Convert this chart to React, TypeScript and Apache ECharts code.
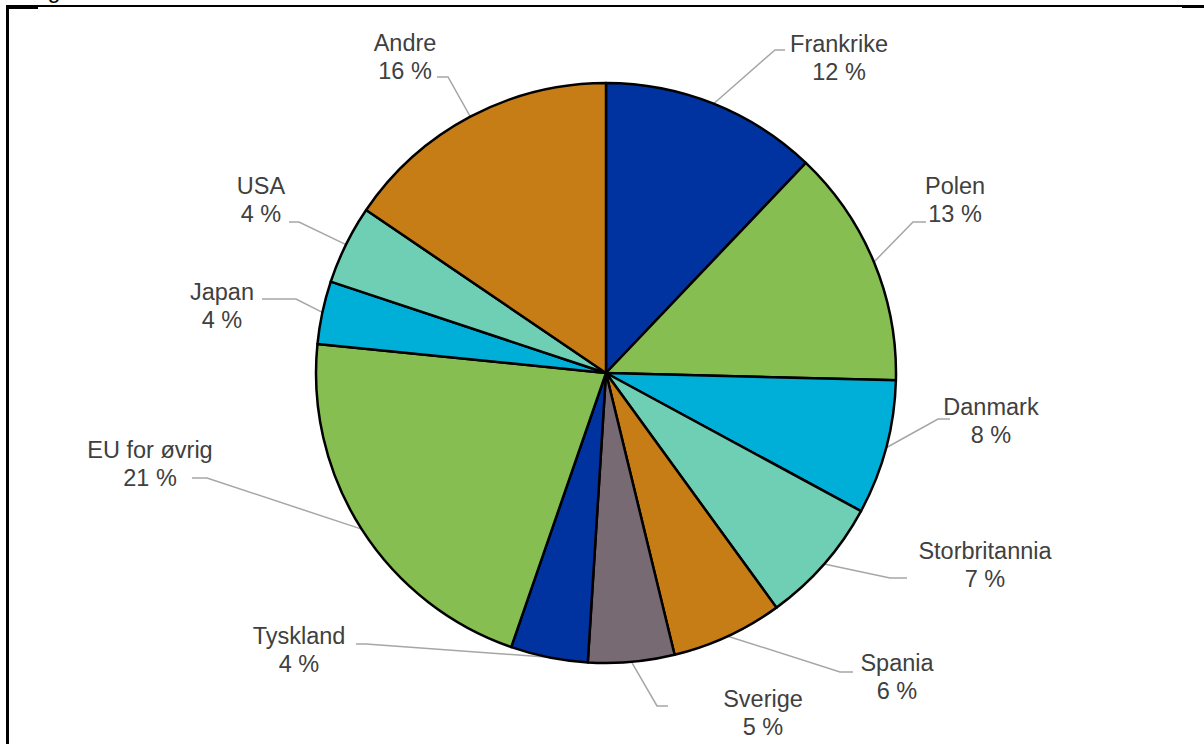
import React, { useEffect, useRef } from "react";
import * as echarts from "echarts";

const countries = [
  "Frankrike",
  "Polen",
  "Danmark",
  "Storbritannia",
  "Spania",
  "Sverige",
  "Tyskland",
  "EU for øvrig",
  "Japan",
  "USA",
  "Andre",
];
const shares = [12.1, 13.3, 7.5, 7.1, 6.2, 4.8, 4.3, 21.3, 3.5, 4.4, 15.5];

const sliceColors = [
  "#0033A0",
  "#86BE52",
  "#00AFD8",
  "#6FCFB4",
  "#C67D16",
  "#786A73",
  "#0033A0",
  "#86BE52",
  "#00AFD8",
  "#6FCFB4",
  "#C67D16",
];

// label layout: [textCenterX, textCenterY, elbowX, elbowY, endX]
const labelPlacement = [
  [839, 58, 775, 50, 785],
  [955, 200, 913, 222, 926],
  [991, 421, 938, 419, 950],
  [985, 565, 890, 578, 907],
  [897, 677, 840, 672, 853],
  [763, 713, 657, 706, 668],
  [299, 650, 366, 644, 356],
  [150, 464, 207, 478, 192],
  [222, 306, 296, 299, 262],
  [261, 200, 299, 222, 289],
  [405, 57, 448, 77, 437],
];

export default function App() {
  const ref = useRef<HTMLDivElement>(null);
  useEffect(() => {
    if (!ref.current) return;
    const chart = echarts.init(ref.current, null, { renderer: "svg" });
    const cx = 606;
    const cy = 373;
    const R = 290;
    const total = shares.reduce((a, b) => a + b, 0);
    const midAngles: number[] = [];
    let acc = 0;
    shares.forEach((v) => {
      midAngles.push(((acc + v / 2) / total) * Math.PI * 2);
      acc += v;
    });
    chart.setOption({
      animation: false,
      backgroundColor: "#ffffff",
      graphic: [
        {
          type: "text",
          left: 28,
          top: -22,
          style: {
            text: "Figur",
            fontSize: 23.5,
            fontFamily: "Liberation Sans, Arial, sans-serif",
            fill: "#000",
          },
        },
        {
          type: "line",
          shape: { x1: 7.5, y1: 6, x2: 7.5, y2: 760 },
          style: { stroke: "#000", lineWidth: 3 },
        },
        {
          type: "line",
          shape: { x1: 6, y1: 6, x2: 1204, y2: 6 },
          style: { stroke: "#000", lineWidth: 2 },
        },
        {
          type: "line",
          shape: { x1: 6, y1: 7.5, x2: 38, y2: 7.5 },
          style: { stroke: "#000", lineWidth: 3 },
        },
        {
          type: "line",
          shape: { x1: 1182, y1: 6.5, x2: 1204, y2: 6.5 },
          style: { stroke: "#000", lineWidth: 3 },
        },
      ],
      series: [
        {
          type: "pie",
          center: [cx, cy],
          radius: R,
          startAngle: 90,
          clockwise: true,
          avoidLabelOverlap: false,
          data: countries.map((n, i) => ({
            name: n,
            value: shares[i],
            itemStyle: { color: sliceColors[i] },
          })),
          itemStyle: { borderColor: "#000", borderWidth: 2.5 },
          emphasis: { disabled: true },
          label: {
            show: true,
            position: "outside",
            formatter: (p: any) => `${p.name}\n${Math.round(p.value)} %`,
            fontSize: 23.5,
            lineHeight: 28.5,
            fontFamily: "Liberation Sans, Arial, sans-serif",
            color: "#404040",
            align: "center",
          },
          labelLine: {
            show: true,
            length: 10,
            length2: 10,
            lineStyle: { color: "#A6A6A6", width: 1.5 },
          },
          labelLayout: (params: any) => {
            const i = params.dataIndex;
            const p = labelPlacement[i];
            const a = midAngles[i];
            const sx = cx + R * Math.sin(a);
            const sy = cy - R * Math.cos(a);
            return {
              x: p[0],
              y: p[1],
              align: "center",
              verticalAlign: "middle",
              labelLinePoints: [
                [sx, sy],
                [p[2], p[3]],
                [p[4], p[3]],
              ],
            };
          },
        },
      ],
    });
    return () => chart.dispose();
  }, []);
  return (
    <div
      ref={ref}
      style={{ position: "fixed", left: 0, top: 0, width: 1204, height: 744 }}
    />
  );
}
